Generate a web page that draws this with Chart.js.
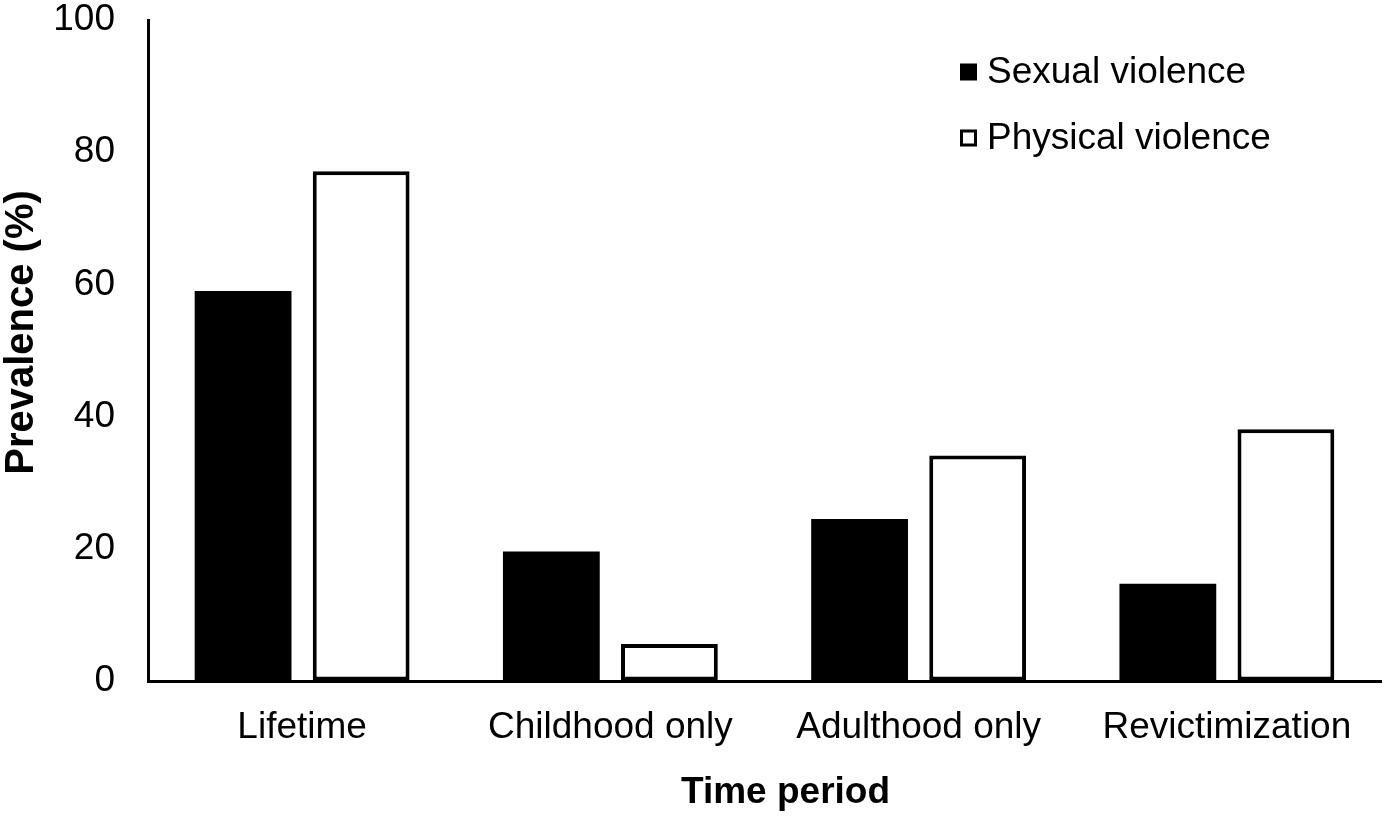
<!DOCTYPE html>
<html>
<head>
<meta charset="utf-8">
<title>Prevalence of violence by time period</title>
<script src="https://cdn.jsdelivr.net/npm/chart.js@4/dist/chart.umd.min.js"></script>
<style>
    html, body { margin: 0; padding: 0; background: #fff; }
    #wrap { width: 1387px; height: 819px; }
</style>
</head>
<body>
<div id="wrap"><canvas id="violenceChart"></canvas></div>
<script>
// --- DATA ---
const categories = ['Lifetime', 'Childhood only', 'Adulthood only', 'Revictimization'];
const sexualViolence = [59, 19.6, 24.5, 14.7];
const physicalViolence = [77.1, 5.6, 34.1, 38.1];
const yTicks = [0, 20, 40, 60, 80, 100];
const xTitle = 'Time period';
const yTitle = 'Prevalence (%)';

const FONT = 'Liberation Sans, Arial, sans-serif';

// Legend drawn inside the plot, top right, one item per line
const insideLegend = {
    id: 'insideLegend',
    afterDraw(chart) {
        const { ctx, chartArea } = chart;
        const boxX = chartArea.right - 421;
        const rows = [chartArea.top + 52, chartArea.top + 118];
        const box = 17;
        ctx.save();
        ctx.font = '37px ' + FONT;
        ctx.textBaseline = 'middle';
        chart.data.datasets.forEach((ds, i) => {
            const cy = rows[i];
            if (ds.borderWidth) {
                ctx.lineWidth = 3;
                ctx.strokeStyle = '#000';
                ctx.strokeRect(boxX + 1.5, cy - box / 2 + 1.5, box - 3, box - 3);
            } else {
                ctx.fillStyle = '#000';
                ctx.fillRect(boxX, cy - box / 2, box, box);
            }
            ctx.fillStyle = '#000';
            ctx.fillText(ds.label, boxX + 27, cy + 1);
        });
        ctx.restore();
    }
};

// Axis titles sit a little off-centre in the original, so draw them here
const axisTitles = {
    id: 'axisTitles',
    afterDraw(chart) {
        const { ctx, chartArea } = chart;
        const midX = (chartArea.left + chartArea.right) / 2;
        const midY = (chartArea.top + chartArea.bottom) / 2;
        ctx.save();
        ctx.fillStyle = '#000';
        ctx.textAlign = 'center';
        ctx.textBaseline = 'middle';
        ctx.font = 'bold 37px ' + FONT;
        ctx.fillText(xTitle, midX + 21, chart.height - 26);
        ctx.translate(22, midY - 18);
        ctx.rotate(-Math.PI / 2);
        ctx.font = 'bold 40px ' + FONT;
        ctx.fillText(yTitle, 0, 0);
        ctx.restore();
    }
};

const ctx = document.getElementById('violenceChart').getContext('2d');
new Chart(ctx, {
    type: 'bar',
    data: {
        labels: categories,
        datasets: [{
            label: 'Sexual violence',
            data: sexualViolence,
            backgroundColor: '#000',
            borderWidth: 0,
            categoryPercentage: 0.766,
            barPercentage: 0.82
        }, {
            label: 'Physical violence',
            data: physicalViolence,
            backgroundColor: '#fff',
            borderColor: '#000',
            borderWidth: 4,
            borderSkipped: false,
            categoryPercentage: 0.766,
            barPercentage: 0.82
        }]
    },
    options: {
        responsive: true,
        maintainAspectRatio: false,
        animation: false,
        layout: { padding: { top: 20, right: 6, left: 0, bottom: 0 } },
        plugins: {
            legend: { display: false },
            tooltip: { enabled: false }
        },
        scales: {
            x: {
                grid: { display: false, drawTicks: false },
                border: { display: true, color: '#000', width: 3 },
                ticks: {
                    color: '#000',
                    padding: 28,
                    font: { family: FONT, size: 37, lineHeight: 1 }
                },
                afterFit: (scale) => { scale.height = 138; }
            },
            y: {
                min: 0,
                max: 100,
                afterBuildTicks: (scale) => { scale.ticks = yTicks.map(v => ({ value: v })); },
                // invisible tick marks give the gap between labels and axis
                grid: { display: true, drawOnChartArea: false, drawTicks: true, tickLength: 33, color: 'rgba(0,0,0,0)' },
                border: { display: true, color: '#000', width: 3 },
                ticks: {
                    color: '#000',
                    padding: 0,
                    font: { family: FONT, size: 37, lineHeight: 1 }
                },
                afterFit: (scale) => { scale.width = 148; }
            }
        }
    },
    plugins: [insideLegend, axisTitles]
});
</script>
</body>
</html>
